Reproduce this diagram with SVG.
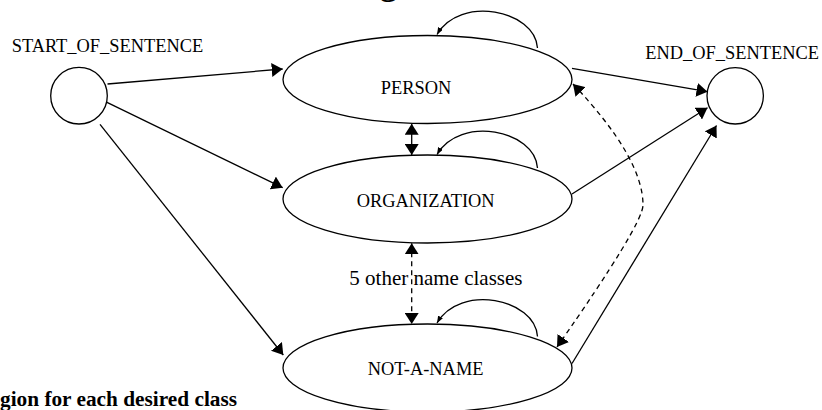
<svg xmlns="http://www.w3.org/2000/svg" width="822" height="410" viewBox="0 0 822 410">
<style>
.n{fill:#fff;stroke:#000;stroke-width:1.3}
.t{font-family:"Liberation Serif","Times New Roman",serif;font-size:18.4px;fill:#000}
.b{font-family:"Liberation Serif","Times New Roman",serif;font-weight:bold;fill:#000}
.e{fill:none;stroke:#000;stroke-width:1.3}
.big{marker-end:url(#ah)}
.both{marker-start:url(#ah);marker-end:url(#ah)}
.d{stroke-dasharray:5,4}
.loop{marker-end:url(#sh)}
</style>
<defs>
<marker id="ah" markerUnits="userSpaceOnUse" markerWidth="12" markerHeight="14" refX="11" refY="7" orient="auto-start-reverse" viewBox="0 0 12 14"><path d="M0,0 L11,7 L0,14 z" fill="#000"/></marker>
<marker id="sh" markerUnits="userSpaceOnUse" markerWidth="8" markerHeight="6" refX="7" refY="2.75" orient="auto" viewBox="0 0 8 6"><path d="M0,0 L7,2.75 L0,5.5 z" fill="#000"/></marker>
</defs>
<text class="b" x="380" y="-5.5" style="font-size:34px">g</text>
<g id="connectors">
<path class="e big" d="M107.5,84 L282.7,69"/>
<path class="e big" d="M107,102.3 L282.7,187.7"/>
<path class="e big" d="M100,124.3 L283.3,355"/>
<path class="e big" d="M572,68.3 L707.5,91.7"/>
<path class="e big" d="M572,194 L707.5,107.7"/>
<path class="e big" d="M572,363.5 L716.5,125.5"/>
<path class="e both d" d="M573,84 Q643,158 643,205 Q643,224 557,347"/>
<path class="e both" d="M411.7,123.8 L411.7,155"/>
<path class="e both d" d="M411.7,243.3 L411.7,324"/>
<path class="e loop" d="M537.5,48 C535,10 460,-5 437,34.5"/>
<path class="e loop" d="M537.5,168 C535,130 460,115 437,154.5"/>
<path class="e loop" d="M537.5,336.5 C535,298.5 460,283.5 437,323"/>
</g>
<g id="start">
<circle class="n" cx="79" cy="95.7" r="28.3"/>
<text class="t" x="11.7" y="52.3">START_OF_SENTENCE</text>
</g>
<g id="end">
<circle class="n" cx="735.2" cy="95.8" r="28.2"/>
<text class="t" x="645.3" y="59">END_OF_SENTENCE</text>
</g>
<g id="person">
<ellipse class="n" cx="427.5" cy="79.5" rx="144.5" ry="44"/>
<text class="t" x="380.7" y="94">PERSON</text>
</g>
<g id="organization">
<ellipse class="n" cx="427.5" cy="199" rx="144.5" ry="44"/>
<text class="t" x="356.7" y="206.7">ORGANIZATION</text>
</g>
<g id="notaname">
<ellipse class="n" cx="427.5" cy="368" rx="144.5" ry="44"/>
<text class="t" x="367.7" y="375">NOT-A-NAME</text>
</g>
<text class="t" x="349.3" y="285" style="font-size:21px">5 other name classes</text>
<text class="b" x="0" y="406" style="font-size:21.3px">gion for each desired class</text>
</svg>
